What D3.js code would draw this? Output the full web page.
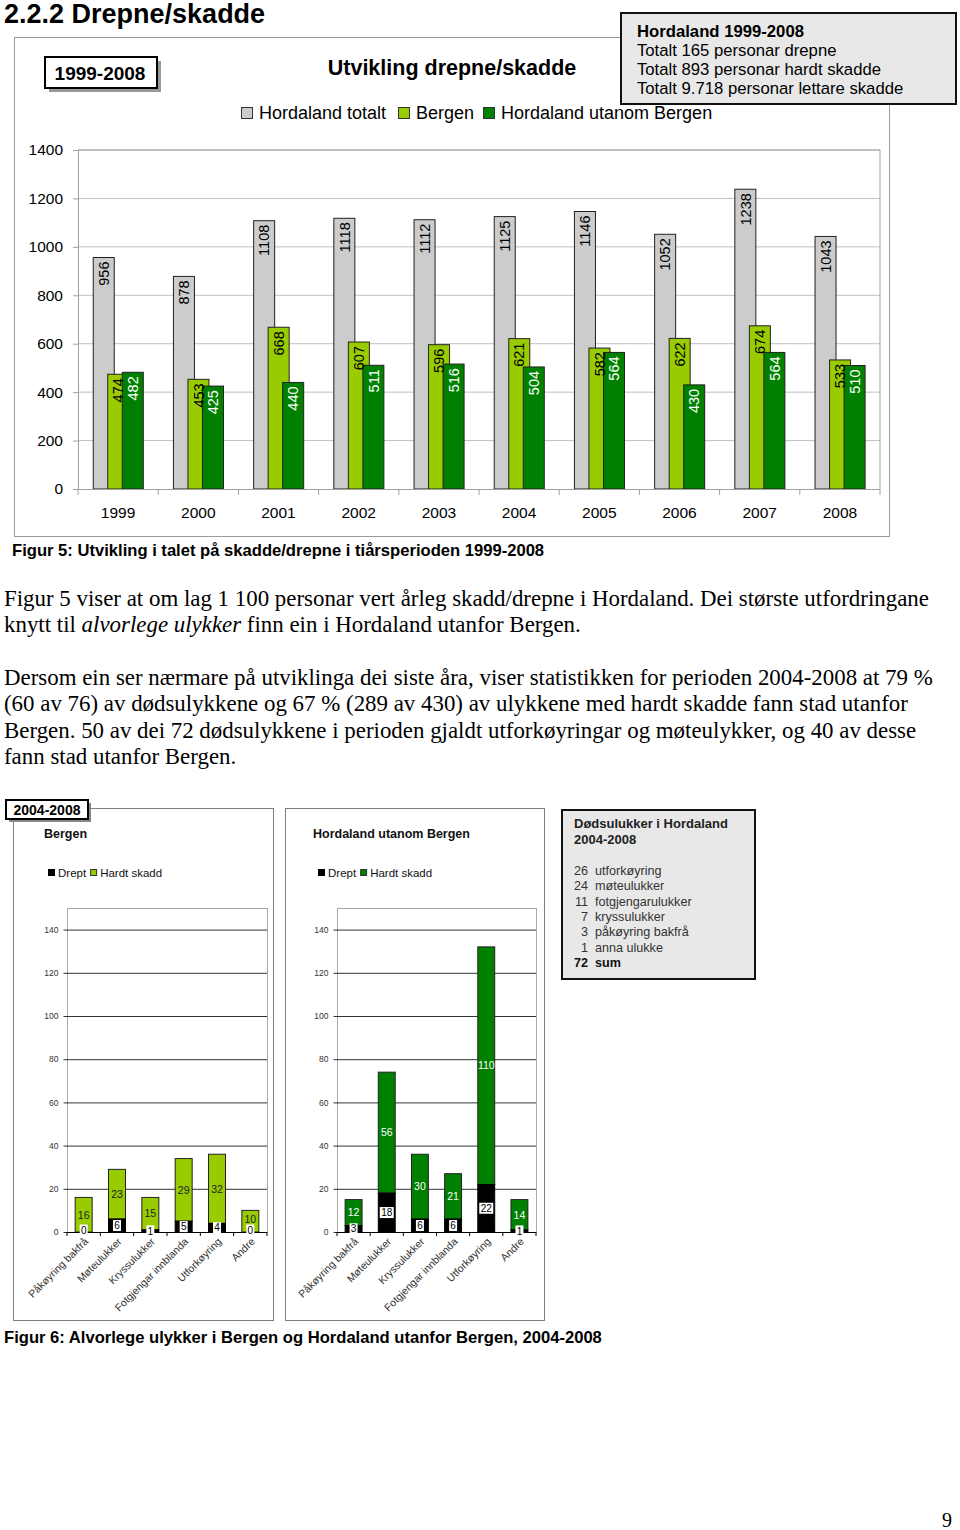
<!DOCTYPE html>
<html><head><meta charset="utf-8">
<script src="https://cdn.jsdelivr.net/npm/d3@7"></script>
<style>
body{margin:0;background:#fff;}
svg{display:block;font-family:"Liberation Sans",Arial,sans-serif;}
</style></head>
<body>
<svg id="page" width="960" height="1530"></svg>
<script>
// ---------- data: Figur 5 ----------
const years = ["1999","2000","2001","2002","2003","2004","2005","2006","2007","2008"];
const hordalandTotalt = [956,878,1108,1118,1112,1125,1146,1052,1238,1043];
const bergen = [474,453,668,607,596,621,582,622,674,533];
const utanomBergen = [482,425,440,511,516,504,564,430,564,510];
const topTicks = [0,200,400,600,800,1000,1200,1400];
const topSeries = ["Hordaland totalt","Bergen","Hordaland utanom Bergen"];

// ---------- data: Figur 6 ----------
const ulykkeTypar = ["Påkøyring bakfrå","Møteulukker","Kryssulukker","Fotgjengar innblanda","Utforkøyring","Andre"];
const bergenDrept = [0,6,1,5,4,0];
const bergenHardt = [16,23,15,29,32,10];
const utanomDrept = [3,18,6,6,22,1];
const utanomHardt = [12,56,30,21,110,14];
const smallTicks = [0,20,40,60,80,100,120,140];
const dodsTal = [26,24,11,7,3,1];
const dodsTypar = ["utforkøyring","møteulukker","fotgjengarulukker","kryssulukker","påkøyring bakfrå","anna ulukke"];
const dodsSum = 72;

const svg = d3.select("#page");
const GRAY="#cccccc", LGREEN="#99cc00", DGREEN="#008000";

// heading
svg.append("text").attr("x",4).attr("y",23).attr("font-size",27).attr("font-weight","bold").text("2.2.2 Drepne/skadde");

// ---------- top chart ----------
svg.append("rect").attr("x",14.5).attr("y",37.5).attr("width",875).attr("height",499)
  .attr("fill","#fff").attr("stroke","#9a9a9a");

const x = d3.scaleBand().domain(years).range([78,880]);
const y = d3.scaleLinear().domain([0,1400]).range([489,150]);
const bw = x.bandwidth();
const barW = bw*0.262, step = bw*0.181, off0 = bw*0.19;

// grid
svg.append("g").selectAll("line").data(topTicks.slice(1)).join("line")
  .attr("x1",78).attr("x2",880).attr("y1",d=>y(d)).attr("y2",d=>y(d))
  .attr("stroke","#c0c0c0");
svg.append("path").attr("d",`M78,150H880V489`).attr("fill","none").attr("stroke","#a0a0a0");
const yAx = svg.append("g").attr("transform","translate(78,0)")
  .call(d3.axisLeft(y).tickValues(topTicks).tickSize(5).tickPadding(10).tickFormat(d3.format("d")));
yAx.select(".domain").attr("stroke","#a0a0a0");
yAx.selectAll(".tick line").attr("stroke","#a0a0a0");
yAx.selectAll("text").attr("font-size",15.5).attr("fill","#000").attr("font-family","Liberation Sans, Arial");

const seriesTop = [hordalandTotalt,bergen,utanomBergen];
const colTop = [GRAY,LGREEN,DGREEN];
seriesTop.forEach((s,si)=>{
  svg.append("g").selectAll("rect").data(s).join("rect")
    .attr("x",(d,i)=>x(years[i])+off0+si*step)
    .attr("width",barW)
    .attr("y",d=>y(d)).attr("height",d=>y(0)-y(d))
    .attr("fill",colTop[si]).attr("stroke","#222").attr("stroke-width",1);
});
const labCol = ["#000","#000","#fff"];
seriesTop.forEach((s,si)=>{
  svg.append("g").selectAll("text").data(s).join("text")
    .attr("transform",(d,i)=>`translate(${x(years[i])+off0+si*step+barW/2},${y(d)+4}) rotate(-90)`)
    .attr("text-anchor","end").attr("dy","0.36em")
    .attr("font-size",14.5).attr("fill",labCol[si]).text(d=>d);
});
svg.append("line").attr("x1",78).attr("x2",880).attr("y1",489.5).attr("y2",489.5).attr("stroke","#a0a0a0");
svg.append("g").selectAll("line").data(years.concat(["end"])).join("line")
  .attr("x1",(d,i)=>78+i*bw).attr("x2",(d,i)=>78+i*bw).attr("y1",489).attr("y2",495).attr("stroke","#a0a0a0");
svg.append("g").selectAll("text").data(years).join("text")
  .attr("x",d=>x(d)+bw/2).attr("y",518).attr("text-anchor","middle").attr("font-size",15.5).text(d=>d);

// title
svg.append("text").attr("x",452).attr("y",75).attr("text-anchor","middle").attr("font-size",21.5).attr("font-weight","bold").text("Utvikling drepne/skadde");
// legend
const legX = [241,398,483];
topSeries.forEach((name,i)=>{
  svg.append("rect").attr("x",legX[i]+0.5).attr("y",107.5).attr("width",11).attr("height",11).attr("fill",colTop[i]).attr("stroke","#333");
  svg.append("text").attr("x",legX[i]+18).attr("y",119).attr("font-size",18).text(name);
});
// 1999-2008 box
svg.append("rect").attr("x",49).attr("y",61).attr("width",112).attr("height",31).attr("fill","#999");
svg.append("rect").attr("x",45).attr("y",57).attr("width",112).attr("height",31).attr("fill","#fff").attr("stroke","#000").attr("stroke-width",2);
svg.append("text").attr("x",100).attr("y",80).attr("text-anchor","middle").attr("font-size",19).attr("font-weight","bold").text("1999-2008");
// info box
svg.append("rect").attr("x",621).attr("y",13).attr("width",335).attr("height",91).attr("fill","#e8e8e8").attr("stroke","#111").attr("stroke-width",2);
const infoLines = ["Hordaland 1999-2008","Totalt 165 personar drepne","Totalt 893 personar hardt skadde","Totalt 9.718 personar lettare skadde"];
svg.append("g").selectAll("text").data(infoLines).join("text")
  .attr("x",637).attr("y",(d,i)=>37+i*19).attr("font-size",16.7)
  .attr("font-weight",(d,i)=>i===0?"bold":"normal").text(d=>d);

// caption 5
svg.append("text").attr("x",12).attr("y",556).attr("font-size",16.6).attr("font-weight","bold")
  .text("Figur 5: Utvikling i talet på skadde/drepne i tiårsperioden 1999-2008");

// paragraphs
const serif = "Liberation Serif, Times New Roman, serif";
const para = svg.append("g").attr("font-family",serif).attr("font-size",22.9);
para.append("text").attr("x",4).attr("y",606).text("Figur 5 viser at om lag 1 100 personar vert årleg skadd/drepne i Hordaland. Dei største utfordringane");
{
  const t = para.append("text").attr("x",4).attr("y",632);
  t.append("tspan").text("knytt til ");
  t.append("tspan").attr("font-style","italic").text("alvorlege ulykker");
  t.append("tspan").text(" finn ein i Hordaland utanfor Bergen.");
}
const p2 = ["Dersom ein ser nærmare på utviklinga dei siste åra, viser statistikken for perioden 2004-2008 at 79 %",
"(60 av 76) av dødsulykkene og 67 % (289 av 430) av ulykkene med hardt skadde fann stad utanfor",
"Bergen. 50 av dei 72 dødsulykkene i perioden gjaldt utforkøyringar og møteulykker, og 40 av desse",
"fann stad utanfor Bergen."];
para.selectAll("text.p2").data(p2).join("text").attr("class","p2").attr("x",4).attr("y",(d,i)=>685+i*26.4).text(d=>d);

// ---------- small charts ----------
function smallChart(opt){
  const g = svg.append("g");
  g.append("rect").attr("x",opt.bx+0.5).attr("y",808.5).attr("width",opt.bw).attr("height",512).attr("fill","#fff").attr("stroke","#808080");
  g.append("text").attr("x",opt.tx).attr("y",838).attr("font-size",12.5).attr("font-weight","bold").attr("fill","#111").text(opt.title);
  // legend
  g.append("rect").attr("x",opt.lx).attr("y",869).attr("width",7).attr("height",7).attr("fill","#000");
  const t1 = g.append("text").attr("x",opt.lx+10).attr("y",877).attr("font-size",11.5).attr("fill","#111").text("Drept");
  const lx2 = opt.lx+10+t1.node().getComputedTextLength()+4;
  g.append("rect").attr("x",lx2+0.5).attr("y",869.5).attr("width",6).attr("height",6).attr("fill",opt.color).attr("stroke","#333");
  g.append("text").attr("x",lx2+10).attr("y",877).attr("font-size",11.5).attr("fill","#111").text("Hardt skadd");

  const xs = d3.scaleBand().domain(ulykkeTypar).range([opt.px0,opt.px1]);
  const ys = d3.scaleLinear().domain([0,150]).range([1232,908]);
  const b = xs.bandwidth(), w = b*0.51;
  g.append("rect").attr("x",opt.px0+0.5).attr("y",908.5).attr("width",opt.px1-opt.px0).attr("height",1232-908).attr("fill","none").attr("stroke","#a8a8a8");
  g.selectAll("line.grid").data(smallTicks.slice(1)).join("line").attr("class","grid")
    .attr("x1",opt.px0).attr("x2",opt.px1).attr("y1",d=>ys(d)+0.5).attr("y2",d=>ys(d)+0.5).attr("stroke","#333");
  const ya = g.append("g").attr("transform",`translate(${opt.px0+0.5},0)`)
    .call(d3.axisLeft(ys).tickValues(smallTicks).tickSize(4).tickPadding(5));
  ya.select(".domain").remove();
  ya.selectAll(".tick line").attr("stroke","#333");
  ya.selectAll("text").attr("font-size",8.5).attr("fill","#333").attr("font-family","Liberation Sans, Arial");
  const stack = opt.drept.map((d,i)=>({k:ulykkeTypar[i],d:d,h:opt.hardt[i]}));
  g.selectAll("rect.h").data(stack).join("rect").attr("class","h")
    .attr("x",s=>xs(s.k)+(b-w)/2).attr("width",w)
    .attr("y",s=>ys(s.d+s.h)).attr("height",s=>ys(s.d)-ys(s.d+s.h))
    .attr("fill",opt.color).attr("stroke","#222");
  g.selectAll("rect.d").data(stack.filter(s=>s.d>0)).join("rect").attr("class","d")
    .attr("x",s=>xs(s.k)+(b-w)/2).attr("width",w)
    .attr("y",s=>ys(s.d)).attr("height",s=>ys(0)-ys(s.d))
    .attr("fill","#000").attr("stroke","#000");
  g.append("line").attr("x1",opt.px0).attr("x2",opt.px1).attr("y1",1232.5).attr("y2",1232.5).attr("stroke","#000");
  g.selectAll("line.xt").data(d3.range(ulykkeTypar.length+1)).join("line").attr("class","xt")
    .attr("x1",i=>opt.px0+i*b).attr("x2",i=>opt.px0+i*b).attr("y1",1232).attr("y2",1236).attr("stroke","#000");
  // hardt labels
  g.selectAll("text.hl").data(stack).join("text").attr("class","hl")
    .attr("x",s=>xs(s.k)+b/2).attr("y",s=>ys(s.d+s.h/2)-(s.d===0&&s.h<12?2:0)).attr("dy","0.36em")
    .attr("text-anchor","middle").attr("font-size",10.5).attr("fill",opt.labColor).text(s=>s.h);
  // drept labels with white boxes
  stack.forEach(s=>{
    const cx = xs(s.k)+b/2, cy = ys(s.d/2)-(s.d===0?2:0);
    const tw = String(s.d).length*6+2;
    g.append("rect").attr("x",cx-tw/2).attr("y",cy-5.5).attr("width",tw).attr("height",11).attr("fill","#fff");
    g.append("text").attr("x",cx).attr("y",cy).attr("dy","0.36em").attr("text-anchor","middle")
      .attr("font-size",10).attr("fill","#000").text(s.d);
  });
  // category labels
  g.selectAll("text.cat").data(ulykkeTypar).join("text").attr("class","cat")
    .attr("transform",d=>`translate(${xs(d)+b/2+3},${1240}) rotate(-45)`)
    .attr("text-anchor","end").attr("dy","0.3em").attr("font-size",10.5).attr("fill","#333").text(d=>d);
}
smallChart({bx:13,bw:260,tx:44,lx:48,px0:67,px1:267,title:"Bergen",color:LGREEN,labColor:"#222",drept:bergenDrept,hardt:bergenHardt});
smallChart({bx:285,bw:259,tx:313,lx:318,px0:337,px1:536,title:"Hordaland utanom Bergen",color:DGREEN,labColor:"#fff",drept:utanomDrept,hardt:utanomHardt});

// 2004-2008 label box
svg.append("rect").attr("x",9).attr("y",803).attr("width",82).attr("height",19).attr("fill","#888");
svg.append("rect").attr("x",6).attr("y",800).attr("width",82).attr("height",19).attr("fill","#fff").attr("stroke","#000").attr("stroke-width",2);
svg.append("text").attr("x",47).attr("y",815).attr("text-anchor","middle").attr("font-size",14).attr("font-weight","bold").text("2004-2008");

// Dødsulukker box
svg.append("rect").attr("x",562).attr("y",810).attr("width",193).attr("height",169).attr("fill","#e8e8e8").attr("stroke","#111").attr("stroke-width",2);
svg.append("text").attr("x",574).attr("y",828).attr("font-size",13).attr("font-weight","bold").attr("fill","#222").text("Dødsulukker i Hordaland");
svg.append("text").attr("x",574).attr("y",844).attr("font-size",13).attr("font-weight","bold").attr("fill","#222").text("2004-2008");
const dg = svg.append("g").attr("font-size",12.6).attr("fill","#333");
dodsTal.forEach((n,i)=>{
  dg.append("text").attr("x",588).attr("y",875+i*15.3).attr("text-anchor","end").text(n);
  dg.append("text").attr("x",595).attr("y",875+i*15.3).text(dodsTypar[i]);
});
dg.append("text").attr("x",588).attr("y",875+6*15.3).attr("text-anchor","end").attr("font-weight","bold").attr("fill","#111").text(dodsSum);
dg.append("text").attr("x",595).attr("y",875+6*15.3).attr("font-weight","bold").attr("fill","#111").text("sum");

// caption 6
svg.append("text").attr("x",4).attr("y",1343).attr("font-size",16.6).attr("font-weight","bold")
  .text("Figur 6: Alvorlege ulykker i Bergen og Hordaland utanfor Bergen, 2004-2008");

// page number
svg.append("text").attr("x",952).attr("y",1527).attr("text-anchor","end").attr("font-family",serif).attr("font-size",20).text("9");
</script>
</body></html>
